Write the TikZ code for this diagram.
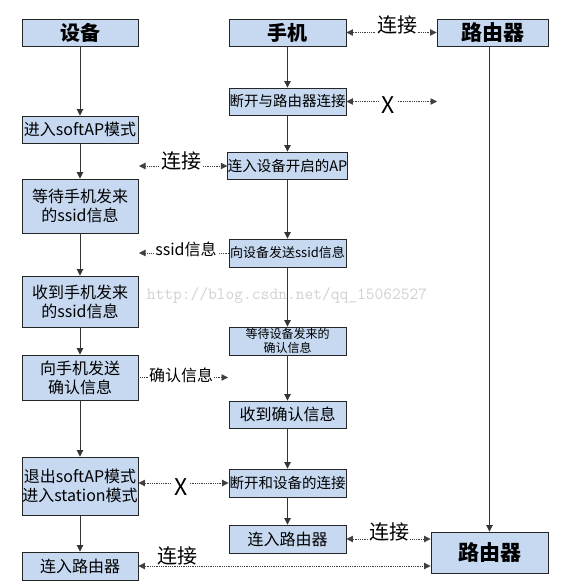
\documentclass[tikz,border=0pt]{standalone}
\usepackage{fontspec}
\setmainfont{Noto Sans CJK SC}
\usetikzlibrary{arrows.meta}
\definecolor{boxblue}{HTML}{C6D9F1}
\begin{document}
\begin{tikzpicture}[x=1pt,y=-1pt,
  >={Triangle[length=6.5pt,width=6.5pt]},
  box/.style={draw=black!85, line width=0.9pt, fill=boxblue, inner sep=0pt, align=center,
              minimum width=116pt, minimum height=27pt, font=\fontsize{16}{19}\selectfont},
  head/.style={box, font=\fontsize{20}{24}\selectfont\bfseries},
  flow/.style={draw=black!80, line width=0.9pt, ->},
  link/.style={draw=black!75, line width=0.8pt, densely dotted},
  lab/.style={inner sep=0pt, font=\fontsize{20}{24}\selectfont},
  slab/.style={inner sep=0pt, font=\fontsize{16}{19}\selectfont}
]
\useasboundingbox (0,0) rectangle (561,585);
\fill[white] (0,0) rectangle (561,585);

% watermark
\node[inner sep=0pt, text=black!18, font=\ttfamily\fontsize{17}{20}\selectfont] (wm) at (287,296) {http://blog.csdn.net/qq\_15062527};

% device column
\node[head] (d0) at (80,32.5) {设备};
\node[box] (d1) at (80,129.5) {进入softAP模式};
\node[box, minimum height=54pt] (d2) at (80,206) {等待手机发来\\的ssid信息};
\node[box, minimum height=51pt] (d3) at (80,301.5) {收到手机发来\\的ssid信息};
\node[box, minimum height=45pt] (d4) at (80,377.5) {向手机发送\\确认信息};
\node[box, minimum height=58pt] (d5) at (80,486) {退出softAP模式\\进入station模式};
\node[box, minimum height=28pt] (d6) at (80,566) {连入路由器};

% phone column
\node[head, minimum width=117pt] (p0) at (287.5,32.5) {手机};
\node[box, minimum width=117pt, font=\fontsize{14.5}{17}\selectfont] (p1) at (287.5,101.5) {断开与路由器连接};
\node[box, minimum width=117pt, font=\fontsize{14.5}{17}\selectfont] (p2) at (287.5,165.5) {连入设备开启的AP};
\node[box, minimum width=117pt, minimum height=28pt, font=\fontsize{13}{16}\selectfont] (p3) at (287.5,253) {向设备发送ssid信息};
\node[box, minimum width=117pt, minimum height=28pt, font=\fontsize{12}{13.5}\selectfont] (p4) at (287.5,341) {等待设备发来的\\确认信息};
\node[box, minimum width=117pt] (p5) at (287.5,414.5) {收到确认信息};
\node[box, minimum width=117pt, minimum height=28pt, font=\fontsize{14.5}{17}\selectfont] (p6) at (287.5,483) {断开和设备的连接};
\node[box, minimum width=117pt, minimum height=28pt] (p7) at (287.5,539) {连入路由器};

% routers
\node[head, minimum width=111pt, font=\fontsize{21}{25}\selectfont\bfseries] (r0) at (492.5,32.5) {路由器};
\node[head, minimum width=117pt, minimum height=41pt, font=\fontsize{21}{25}\selectfont\bfseries] (r1) at (489.5,552.5) {路由器};

% solid flow arrows
\draw[flow] (d0) -- (d1);
\draw[flow] (d1) -- (d2);
\draw[flow] (d2) -- (d3);
\draw[flow] (d3) -- (d4);
\draw[flow] (d4) -- (d5);
\draw[flow] (d5) -- (d6);
\draw[flow] (p0) -- (p1);
\draw[flow] (p1) -- (p2);
\draw[flow] (p2) -- (p3);
\draw[flow] (p3) -- (p4);
\draw[flow] (p4) -- (p5);
\draw[flow] (p5) -- (p6);
\draw[flow] (p6) -- (p7);
\draw[flow] (r1.north |- r0.south) -- (r1.north);

% dotted links
\coordinate (c1) at (437,101.5);
\coordinate (c2) at (139,166);
\coordinate (c3) at (139,253);
\coordinate (c4) at (228,377.5);

\draw[link, <->] (p0) -- (r0);
\node[lab, fill=white, inner xsep=1pt] (l1) at (397,25) {连接};

\draw[link, <->] (p1) -- (c1);
\node[lab, fill=white, inner xsep=2pt, font=\fontsize{23}{26}\selectfont] (l2) at (388,105) {X};

\draw[link, <->] (c2) -- (p2.west |- c2);
\node[lab, fill=white, inner xsep=1pt] (l3) at (181,161) {连接};

\draw[link, <-] (c3) -- (p3.west);
\node[slab, fill=white, inner xsep=1pt] (l4) at (186,249) {ssid信息};

\draw[link, ->] (d4.east) -- (c4);
\node[slab, fill=white, inner xsep=1pt] (l5) at (181,375) {确认信息};

\draw[link, <->] (d5.east |- p6.west) -- (p6.west);
\node[lab, fill=white, inner xsep=2pt, font=\fontsize{23}{26}\selectfont] (l6) at (181,487) {X};

\draw[link, <->] (p7.east) -- (p7.east -| r1.west);
\node[lab, fill=white, inner xsep=1pt] (l7) at (389,532) {连接};

\draw[link, <->] (d6.east) -- (d6.east -| r1.west);
\node[lab, fill=white, inner xsep=1pt] (l8) at (177,556) {连接};
\end{tikzpicture}
\end{document}
